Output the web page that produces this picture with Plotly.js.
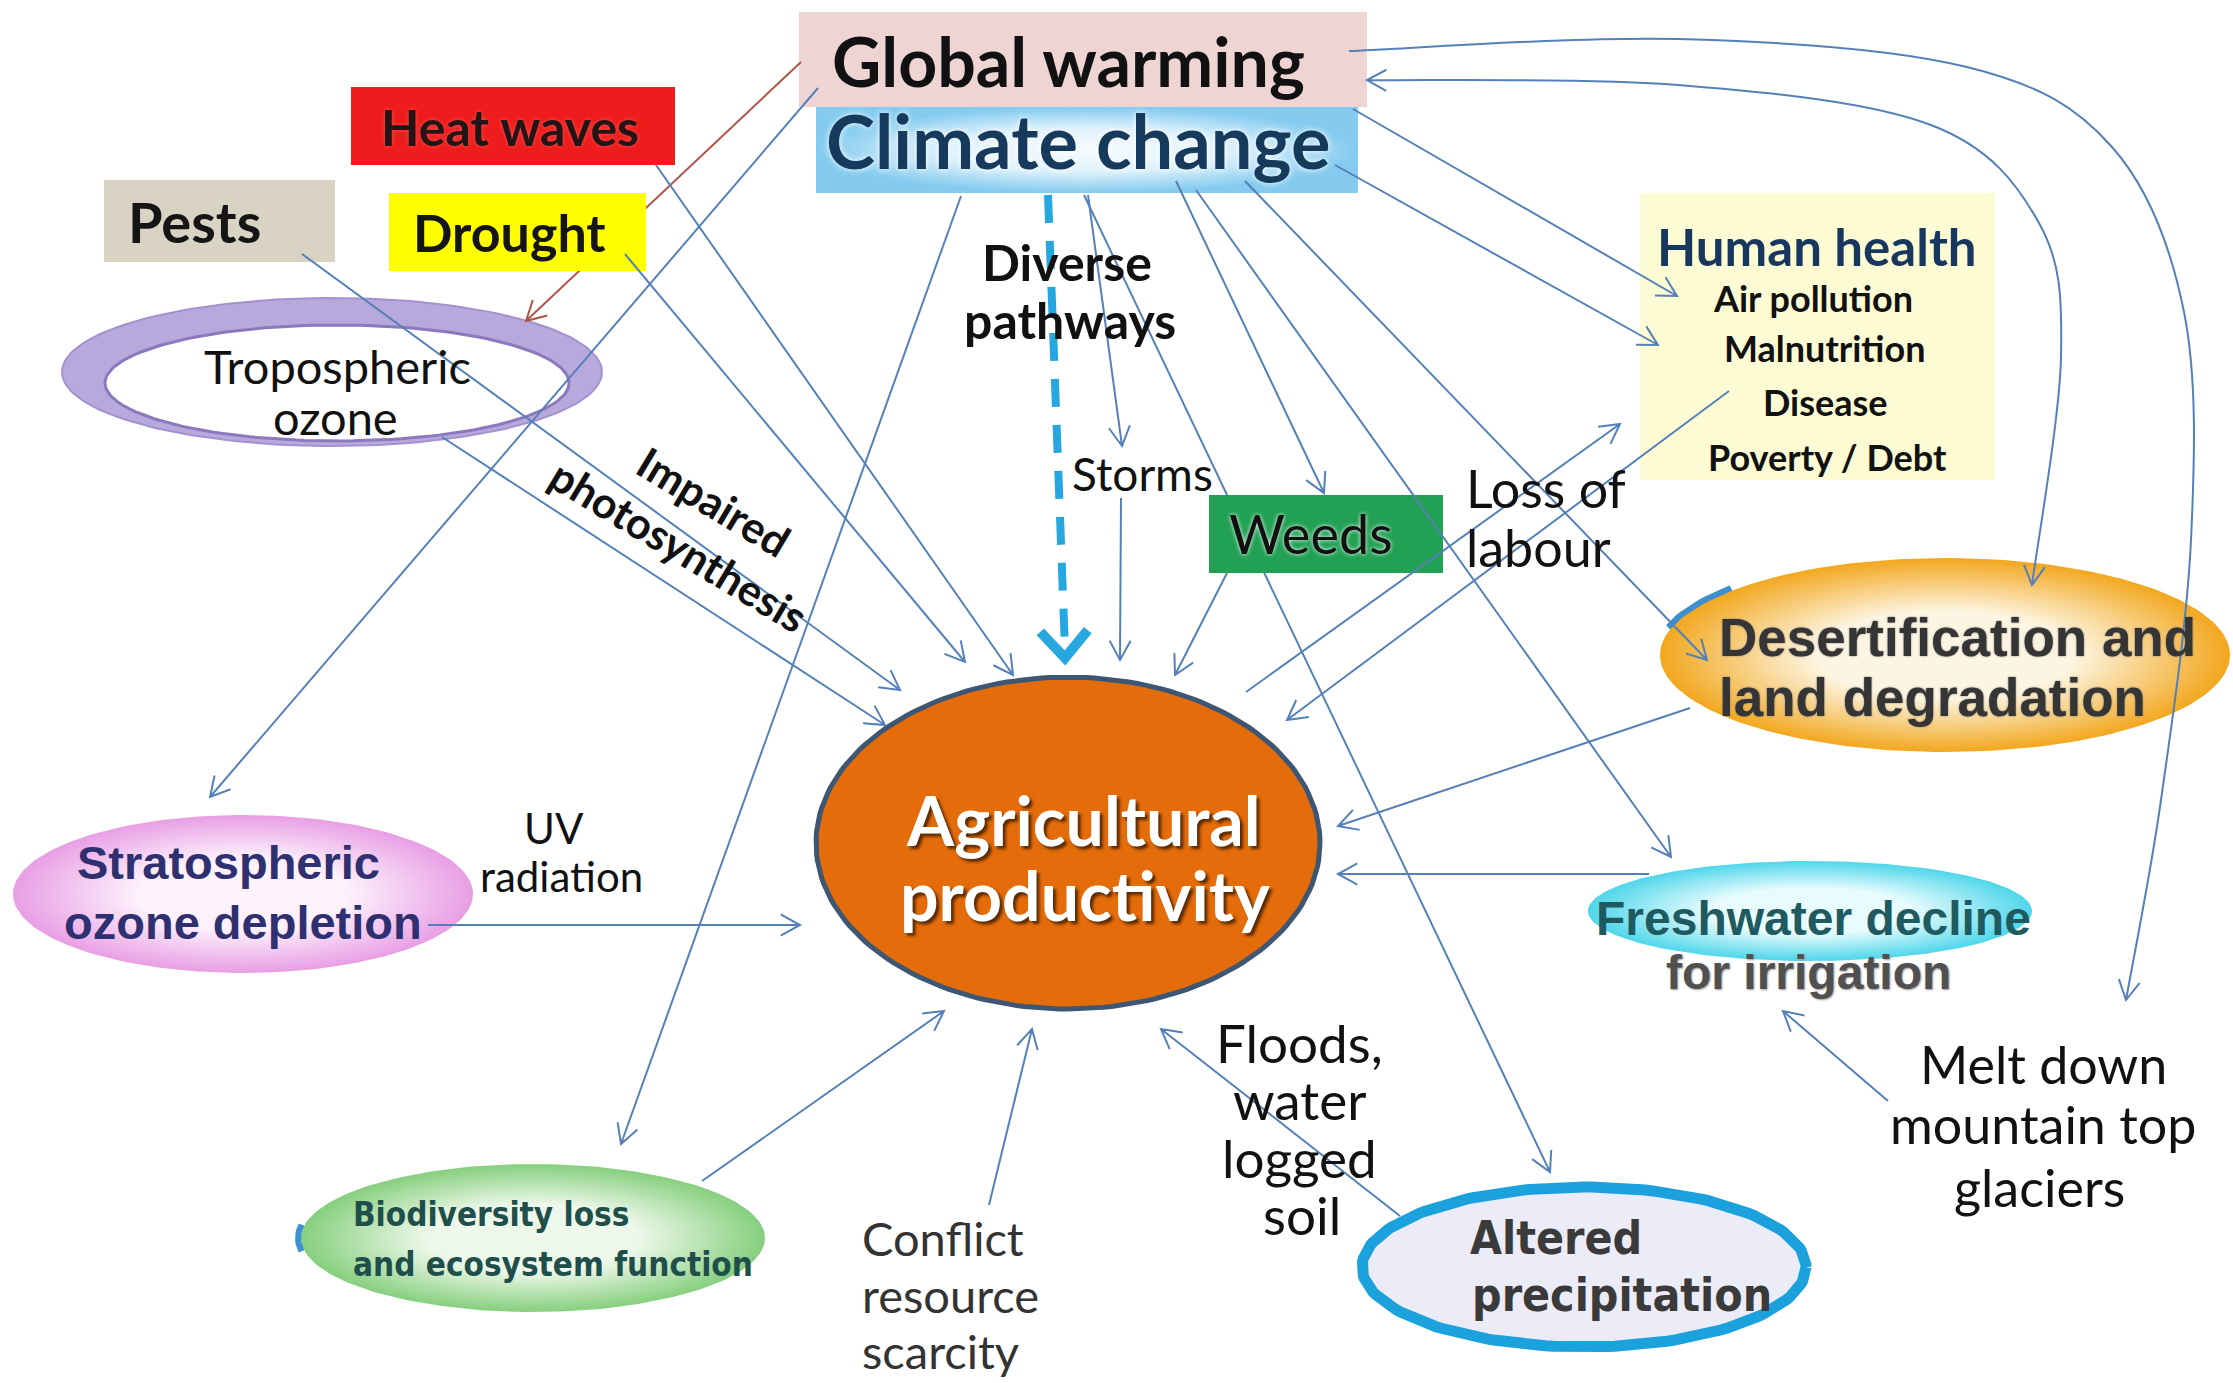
<!DOCTYPE html>
<html><head><meta charset="utf-8">
<script src="https://cdn.plot.ly/plotly-3.0.1.min.js"></script>
<style>html,body{margin:0;padding:0;background:#fff;overflow:hidden}#chart{width:2233px;height:1383px}</style>
</head><body><div id="chart"></div>
<script>
const W = 2233, H = 1383;
const CAL = 'Lato, "Open Sans", sans-serif';
const ARI = '"Liberation Sans", Arial, sans-serif';
const NAR = '"Liberation Sans Narrow", "DejaVu Sans Condensed", "Liberation Sans", sans-serif';

// ---- Text labels ----
const labelText = ['Global warming','Climate change','Heat waves','Pests','Drought','Tropospheric','ozone',
  'Diverse','pathways','Storms','Impaired','photosynthesis','Weeds','Loss of','labour',
  'Human health','Air pollution','Malnutrition','Disease','Poverty / Debt',
  'Desertification and','land degradation','Agricultural','productivity','UV','radiation',
  'Stratospheric','ozone depletion','Freshwater decline','for irrigation','Melt down','mountain top','glaciers',
  'Floods,','water','logged','soil','Altered','precipitation','Biodiversity loss','and ecosystem function',
  'Conflict','resource','scarcity'];
const labelX = [1068,1078,510,194,509,337,335, 1067,1070,1142,714,679,1311,1464,1464,
  1817,1813,1825,1825,1827, 1717,1717,1083,1085,554,561, 228,243,1813,1808,2043,2043,2039,
  1299,1299,1299,1302,1468,1470,351,351, 860,860,860];
const labelY = [60,140,127,221,232,366,417, 262,320,473,501,545,533,488,547,
  246,298,348,402,457, 637,697,819,894,828,876, 862,922,918,972,1064,1124,1187,
  1042,1099,1157,1214,1238,1295,1214,1264, 1238,1295,1351];
const labelSize = [68,74,50,56,52,47,47, 50,50,46,43,43,54,52,52,
  51,36,36,36,36, 53,53,68,68,42,42, 47,47,48,48,52,52,52,
  53,53,53,53,46,46,33,33, 47,47,47];
const labelColor = ['#111','#163a5c','#231515','#151515','#151515','#111','#111',
  '#111','#111','#111','#111','#111','#111','#111','#111',
  '#17375e','#111','#111','#111','#111', '#353535','#353535','#ffffff','#ffffff','#111','#111',
  '#2f3070','#2f3070','#1f5a60','#505050','#111','#111','#111',
  '#111','#111','#111','#111','#3a3a3a','#3a3a3a','#1f4f4a','#1f4f4a', '#333','#333','#333'];
const labelBold = [1,1,1,1,1,0,0, 1,1,0,1,1,0,0,0, 1,1,1,1,1, 1,1,1,1,0,0, 1,1,1,1,0,0,0,
  0,0,0,0,1,1,1,1, 0,0,0];
const labelFam = ['C','C','C','C','C','C','C','C','C','C','C','C','C','C','C','C','C','C','C','C',
  'A','A','C','C','C','C','A','A','A','A','C','C','C','C','C','C','C','N','N','N','N','C','C','C'];
const labelLeft = [0,0,0,0,0,0,0, 0,0,0,0,0,0,1,1, 0,0,0,0,0, 1,1,0,0,0,0, 0,0,0,0,0,0,0,
  0,0,0,0,1,1,1,1, 1,1,1];
const labelAngle = {10:31, 11:31};
const labelShadow = {1:'0px 0px 6px #ffffff', 2:'0px 0px 4px #ff5050', 12:'0px 0px 4px #ffffff',
  22:'3px 3px 3px #5a2a05', 23:'3px 3px 3px #5a2a05', 29:'1px 1px 2px #999', 20:'0px 0px 2px #777', 21:'0px 0px 2px #777'};

// ---- Node ellipses: [cx, cy, rx, ry] ----
const ellNames = ['Tropospheric ring','Tropospheric inner','Stratospheric','Biodiversity','Agricultural','Desertification','Freshwater','Altered precipitation'];
const ellGeom = [[332,372,270,74],[337,383,232,58],[243,894,230,79],[533,1238,232,74],[1068,843,252,166],[1945,655,285,97],[1810,911,222,50],[1584,1267,222,80]];
const ellFill = ['#b8a9dc','#ffffff',null,null,'#e46c0a',null,null,'#ececf8'];
const ellGrad = [null,null,['#fdf2fc','#e89ee5'],['#eef8ea','#86cf7e'],null,['#fdf5e2','#f2a71e'],['#e8fcfe','#4fd6ea'],null];
const ellLine = [['#a391d0',2],['#8b78bd',3],null,null,['#3c5674',5],null,null,['#1ba1dc',11]];
// small blue rim accents: [ellipse index, start angle deg, end angle deg]
const rimAccent = [[5,196,222],[3,170,190]];

// ---- Boxes: [x0,y0,x1,y1] ----
const boxNames = ['Global warming','Climate change','Human health','Pests','Heat waves','Drought','Weeds'];
const boxGeom = [[799,12,1367,107],[816,107,1358,193],[1640,193,1995,480],[104,180,335,262],[351,87,675,165],[389,193,646,271],[1209,495,1443,573]];
const boxFill = ['#eed5d3',null,'#fdfbd3','#d8d3c3','#ee1c1c','#ffff00','#22a155'];

// ---- Straight arrows: tail -> head ----
const arrowTail = [[801,62],[1084,195],
  [818,88],[656,165],[625,254],[302,254],[442,437],[961,196],[1088,195],[1121,498],[1176,181],[1196,190],[1245,181],
  [1353,109],[1335,165],[1227,573],[1246,692],[1729,391],[1690,708],[1649,874],[1888,1101],[1400,1216],[989,1205],[702,1181],[428,925]];
const arrowHead = [[526,321],[1550,1172],
  [210,797],[1013,675],[965,662],[900,690],[885,725],[621,1144],[1122,446],[1120,660],[1324,493],[1671,857],[1707,660],
  [1677,296],[1658,345],[1175,675],[1620,424],[1287,720],[1338,826],[1338,874],[1783,1011],[1161,1029],[1032,1029],[944,1011],[800,925]];
const arrowColor = ['#b0554a'];
// ---- Curved arrows (waypoints) ----
const curveA = [[1349,51],[1678,39],[1967,67],[2112,147],[2184,312],[2191,540],[2161,800],[2126,1000]];
const curveB = [[1367,80],[1678,85],[1931,125],[2039,223],[2061,357],[2032,585]];
// ---- Dashed main pathway ----
const dashed = [[1048,195],[1065,658]];

const BLUE = '#5580b8';

function head(tx,ty,fx,fy,L,ang){
  const dx=fx-tx, dy=fy-ty, n=Math.hypot(dx,dy), ux=dx/n, uy=dy/n;
  const c=Math.cos(ang), s=Math.sin(ang);
  const ax=tx+L*(ux*c-uy*s), ay=ty+L*(ux*s+uy*c);
  const bx=tx+L*(ux*c+uy*s), by=ty+L*(-ux*s+uy*c);
  return `M${ax},${ay}L${tx},${ty}L${bx},${by}`;
}
function curve(pts, headEnd, headStart){
  let d=`M${pts[0][0]},${pts[0][1]}`;
  const n=pts.length; let lastC2=null, firstC1=null;
  for(let i=0;i<n-1;i++){
    const p0=pts[Math.max(i-1,0)], p1=pts[i], p2=pts[i+1], p3=pts[Math.min(i+2,n-1)];
    const c1=[p1[0]+(p2[0]-p0[0])/6, p1[1]+(p2[1]-p0[1])/6];
    const c2=[p2[0]-(p3[0]-p1[0])/6, p2[1]-(p3[1]-p1[1])/6];
    if(i===0) firstC1=c1; lastC2=c2;
    d+=`C${c1[0]},${c1[1]} ${c2[0]},${c2[1]} ${p2[0]},${p2[1]}`;
  }
  if(headEnd) d+=head(pts[n-1][0],pts[n-1][1],lastC2[0],lastC2[1],22,0.5);
  if(headStart) d+=head(pts[0][0],pts[0][1],firstC1[0],firstC1[1],22,0.5);
  return d;
}
function arrowShape(i){
  const t=arrowTail[i], h=arrowHead[i];
  return {type:'path', xref:'x', yref:'y', layer:'above',
    path:`M${t[0]},${t[1]}L${h[0]},${h[1]}`+head(h[0],h[1],t[0],t[1],22,0.5),
    line:{color: i===0 ? arrowColor[0] : BLUE, width:2}, fillcolor:'rgba(0,0,0,0)'};
}
function boxShape(i){
  const g=boxGeom[i];
  return {type:'rect', xref:'x', yref:'y', layer:'above', x0:g[0], y0:g[1], x1:g[2], y1:g[3],
    fillcolor:boxFill[i], line:{width:0}};
}

// ---- traces ----
const traces=[];
function ellTrace(i){
  const [cx,cy,rx,ry]=ellGeom[i]; const xs=[],ys=[];
  for(let k=0;k<=180;k++){const t=2*Math.PI*k/180; xs.push(cx+rx*Math.cos(t)); ys.push(cy+ry*Math.sin(t));}
  const tr={type:'scatter', mode:'lines', x:xs, y:ys, fill:'toself', hoverinfo:'skip',
    line: ellLine[i] ? {color:ellLine[i][0], width:ellLine[i][1]} : {color:'rgba(0,0,0,0)', width:0}};
  if(ellGrad[i]){ tr.fillcolor=ellGrad[i][1]; tr.fillgradient={type:'radial', colorscale:[[0,ellGrad[i][0]],[0.45,ellGrad[i][0]],[1,ellGrad[i][1]]]}; }
  else tr.fillcolor=ellFill[i];
  return tr;
}
for(let i=0;i<ellNames.length;i++) traces.push(ellTrace(i));
// blue rim accents
rimAccent.forEach(r=>{
  const [cx,cy,rx,ry]=ellGeom[r[0]]; const xs=[],ys=[];
  for(let a=r[1];a<=r[2];a+=2){const t=a*Math.PI/180; xs.push(cx+(rx+3)*Math.cos(t)); ys.push(cy+(ry+3)*Math.sin(t));}
  traces.push({type:'scatter', mode:'lines', x:xs, y:ys, hoverinfo:'skip', line:{color:'#3f8fd0', width:6}});
});
// climate change box with soft gradient
{
  const g=boxGeom[1];
  traces.push({type:'scatter', mode:'lines', x:[g[0],g[2],g[2],g[0],g[0]], y:[g[1],g[1],g[3],g[3],g[1]],
    fill:'toself', hoverinfo:'skip', line:{width:0,color:'rgba(0,0,0,0)'}, fillcolor:'#bfe5f8',
    fillgradient:{type:'radial', colorscale:[[0,'#f6fcff'],[0.5,'#dff2fc'],[1,'#84cbef']]}});
}

// ---- shapes ----
const shapes=[];
[0,2,3,4].forEach(i=>shapes.push(boxShape(i)));
shapes.push(arrowShape(0)); shapes.push(arrowShape(1));
[5,6].forEach(i=>shapes.push(boxShape(i)));
for(let i=2;i<arrowTail.length;i++) shapes.push(arrowShape(i));
shapes.push({type:'path', xref:'x', yref:'y', layer:'above', path:curve(curveA,true,false), line:{color:BLUE,width:2}, fillcolor:'rgba(0,0,0,0)'});
shapes.push({type:'path', xref:'x', yref:'y', layer:'above', path:curve(curveB,true,true), line:{color:BLUE,width:2}, fillcolor:'rgba(0,0,0,0)'});
shapes.push({type:'line', xref:'x', yref:'y', layer:'above', x0:dashed[0][0], y0:dashed[0][1], x1:dashed[1][0], y1:dashed[1][1]-8,
  line:{color:'#27a7df', width:8, dash:'28px,18px'}});
shapes.push({type:'path', xref:'x', yref:'y', layer:'above', path:head(dashed[1][0],dashed[1][1],dashed[0][0],dashed[0][1],36,0.72),
  line:{color:'#27a7df', width:10}, fillcolor:'rgba(0,0,0,0)'});

// ---- annotations ----
const famMap={C:CAL,A:ARI,N:NAR};
const annotations=labelText.map((t,i)=>{
  const a={x:labelX[i], y:labelY[i], xref:'x', yref:'y', text:t, showarrow:false,
    xanchor: labelLeft[i] ? 'left' : 'center', yanchor:'middle',
    font:{family:famMap[labelFam[i]], size:labelSize[i], color:labelColor[i], weight: labelBold[i] ? 'bold' : 'normal'}};
  if(labelShadow[i]) a.font.shadow=labelShadow[i];
  if(labelAngle[i]!==undefined) a.textangle=labelAngle[i];
  return a;
});

const layout={width:W, height:H, margin:{l:0,r:0,t:0,b:0}, showlegend:false,
  paper_bgcolor:'#ffffff', plot_bgcolor:'#ffffff', hovermode:false,
  xaxis:{range:[0,W], visible:false, fixedrange:true},
  yaxis:{range:[H,0], visible:false, fixedrange:true},
  shapes, annotations};
Plotly.newPlot('chart', traces, layout, {staticPlot:true, displayModeBar:false});
</script></body></html>
